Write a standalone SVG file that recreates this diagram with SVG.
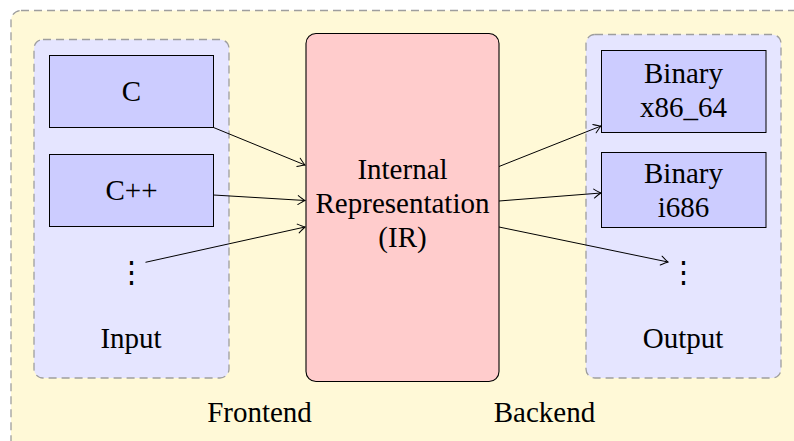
<svg xmlns="http://www.w3.org/2000/svg" width="794" height="441" viewBox="0 0 794 441">
  <style>
    text { font-family: "Liberation Serif", "DejaVu Serif", serif; font-size: 29px; fill: #000; text-anchor: middle; }
    .group { stroke: #9e9e9e; stroke-width: 1.3; stroke-dasharray: 8 5; }
    .outer { fill: #fff9d7; }
    .lane { fill: #e5e5ff; }
    .box { fill: #ccccff; stroke: #000; stroke-width: 1; }
    .ir { fill: #ffcccc; stroke: #000; stroke-width: 1.1; }
    .conn { fill: none; stroke: #000; stroke-width: 1; marker-end: url(#arrow); }
  </style>
  <defs>
    <marker id="arrow" markerUnits="userSpaceOnUse" viewBox="-9 -6 11 12" refX="0" refY="0" markerWidth="11" markerHeight="12" orient="auto" overflow="visible">
      <path d="M-7,-4.5 Q-2,-1 0,0 Q-2,1 -7,4.5" fill="none" stroke="#000" stroke-width="1" stroke-linecap="round"/>
    </marker>
  </defs>

  <g id="outer">
    <rect class="group outer" x="11" y="10.5" width="800" height="442" rx="10"/>
    <text x="259.5" y="422">Frontend</text>
    <text x="544.5" y="422">Backend</text>
  </g>

  <g id="input-group">
    <rect class="group lane" x="34" y="39.5" width="195" height="338.5" rx="9"/>
    <text x="131" y="348">Input</text>
  </g>

  <g id="output-group">
    <rect class="group lane" x="586" y="34.5" width="195" height="343.5" rx="9"/>
    <text x="683" y="348">Output</text>
  </g>

  <g id="node-c">
    <rect class="box" x="49.5" y="55.5" width="164" height="72"/>
    <text x="131.5" y="101">C</text>
  </g>

  <g id="node-cpp">
    <rect class="box" x="49.5" y="154.5" width="164" height="72"/>
    <text x="131.5" y="200">C++</text>
  </g>

  <g id="node-input-more">
    <text x="131" y="282">⋮</text>
  </g>

  <g id="node-ir">
    <rect class="ir" x="306" y="33.5" width="193" height="348" rx="10"/>
    <text x="402.5" y="179">Internal</text>
    <text x="402.5" y="213">Representation</text>
    <text x="402.5" y="247">(IR)</text>
  </g>

  <g id="node-x86">
    <rect class="box" x="601.5" y="50.5" width="164.5" height="82"/>
    <text x="683.5" y="83">Binary</text>
    <text x="683.5" y="117">x86_64</text>
  </g>

  <g id="node-i686">
    <rect class="box" x="601.5" y="152.5" width="164.5" height="75"/>
    <text x="683.5" y="183">Binary</text>
    <text x="683.5" y="217">i686</text>
  </g>

  <g id="node-output-more">
    <text x="683" y="282">⋮</text>
  </g>

  <g id="connectors">
    <line class="conn" x1="213.5" y1="127.5" x2="305" y2="165"/>
    <line class="conn" x1="213.5" y1="195" x2="305" y2="200.5"/>
    <line class="conn" x1="145.5" y1="262.3" x2="305" y2="227"/>
    <line class="conn" x1="499" y1="166.5" x2="601" y2="126"/>
    <line class="conn" x1="499" y1="201" x2="601" y2="193"/>
    <line class="conn" x1="499" y1="227" x2="668" y2="262"/>
  </g>
</svg>
